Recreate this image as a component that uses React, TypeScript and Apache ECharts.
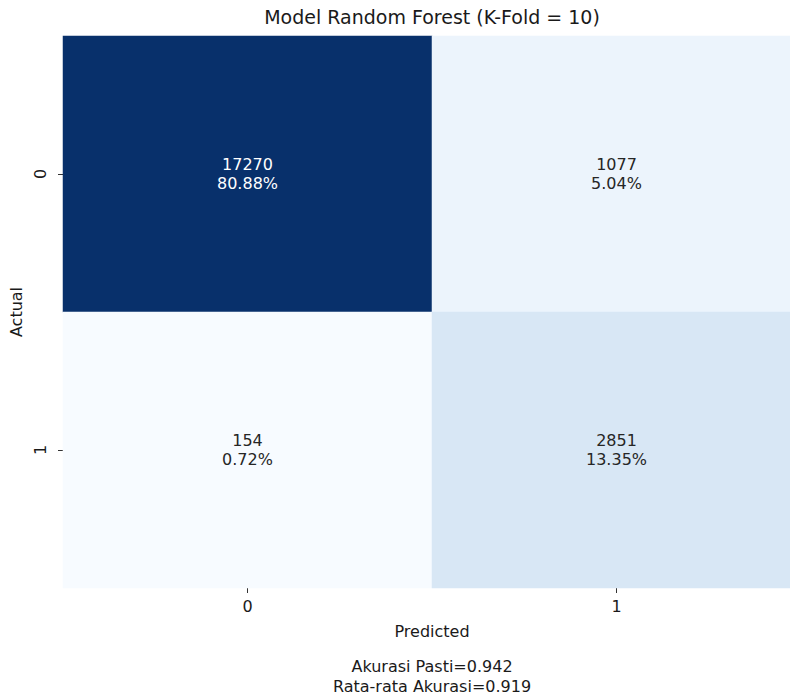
import React, { useEffect, useRef } from "react";
import * as echarts from "echarts";

const predictedLabels = ["0", "1"];
const actualLabels = ["0", "1"];
// [predictedIndex, actualIndex, count]
const counts: number[][] = [
  [0, 0, 17270],
  [1, 0, 1077],
  [0, 1, 154],
  [1, 1, 2851],
];
const titleText = "Model Random Forest (K-Fold = 10)";
const footerLines = ["Akurasi Pasti=0.942", "Rata-rata Akurasi=0.919"];
const bluesPalette = [
  "#f7fbff", "#deebf7", "#c6dbef", "#9ecae1", "#6baed6",
  "#4292c6", "#2171b5", "#08519c", "#08306b",
];

const FONT = "DejaVu Sans";

export default function App() {
  const ref = useRef<HTMLDivElement>(null);
  useEffect(() => {
    if (!ref.current) return;
    const chart = echarts.init(ref.current, null, { renderer: "svg" });
    const total = counts.reduce((s, d) => s + d[2], 0);
    const values = counts.map((d) => d[2]);
    const vmin = Math.min(...values);
    const vmax = Math.max(...values);
    const data = counts.map((d) => {
      const frac = (d[2] - vmin) / (vmax - vmin);
      return {
        value: d,
        label: { color: frac > 0.5 ? "#ffffff" : "#262626" },
      };
    });
    chart.setOption({
      animation: false,
      backgroundColor: "#ffffff",
      textStyle: { fontFamily: FONT },
      title: {
        text: titleText,
        left: 432,
        textAlign: "center",
        top: 7,
        padding: 0,
        textStyle: { fontFamily: FONT, fontSize: 19, fontWeight: "normal", color: "#1a1a1a" },
      },
      grid: {
        left: 63,
        top: 36,
        width: 738,
        height: 552,
        containLabel: false,
        outerBoundsMode: "none",
      },
      xAxis: {
        type: "category",
        data: predictedLabels,
        name: "Predicted",
        nameLocation: "middle",
        nameGap: 35,
        nameTextStyle: { fontFamily: FONT, fontSize: 16, color: "#1a1a1a" },
        axisLine: { show: false },
        axisTick: { show: true, alignWithLabel: true, length: 5, lineStyle: { color: "#333", width: 1 } },
        axisLabel: { fontFamily: FONT, fontSize: 16, color: "#1a1a1a", margin: 10 },
        splitLine: { show: false },
        splitArea: { show: false },
      },
      yAxis: {
        type: "category",
        data: actualLabels,
        inverse: true,
        name: "Actual",
        nameLocation: "middle",
        nameGap: 37,
        nameRotate: 90,
        nameTextStyle: { fontFamily: FONT, fontSize: 16, color: "#1a1a1a" },
        axisLine: { show: false },
        axisTick: { show: true, alignWithLabel: true, length: 5, lineStyle: { color: "#333", width: 1 } },
        axisLabel: { fontFamily: FONT, fontSize: 16, color: "#1a1a1a", rotate: 90, margin: 15 },
        splitLine: { show: false },
        splitArea: { show: false },
      },
      visualMap: {
        show: false,
        min: vmin,
        max: vmax,
        dimension: 2,
        inRange: { color: bluesPalette },
      },
      series: [
        {
          type: "heatmap",
          data,
          itemStyle: { borderWidth: 0 },
          label: {
            show: true,
            fontFamily: FONT,
            fontSize: 16,
            lineHeight: 19,
            formatter: (p: any) => {
              const c = p.value[2];
              return `${c}\n${((c / total) * 100).toFixed(2)}%`;
            },
          },
          emphasis: { disabled: true },
        },
      ],
      graphic: footerLines.map((t, i) => ({
        type: "text",
        x: 432,
        y: 666 + i * 20,
        style: {
          text: t,
          fontFamily: FONT,
          fontSize: 16,
          fill: "#1a1a1a",
          textAlign: "center",
          textVerticalAlign: "middle",
        },
      })),
    });
    return () => chart.dispose();
  }, []);
  return (
    <div
      ref={ref}
      style={{ position: "fixed", left: 0, top: 0, width: 790, height: 697 }}
    />
  );
}
